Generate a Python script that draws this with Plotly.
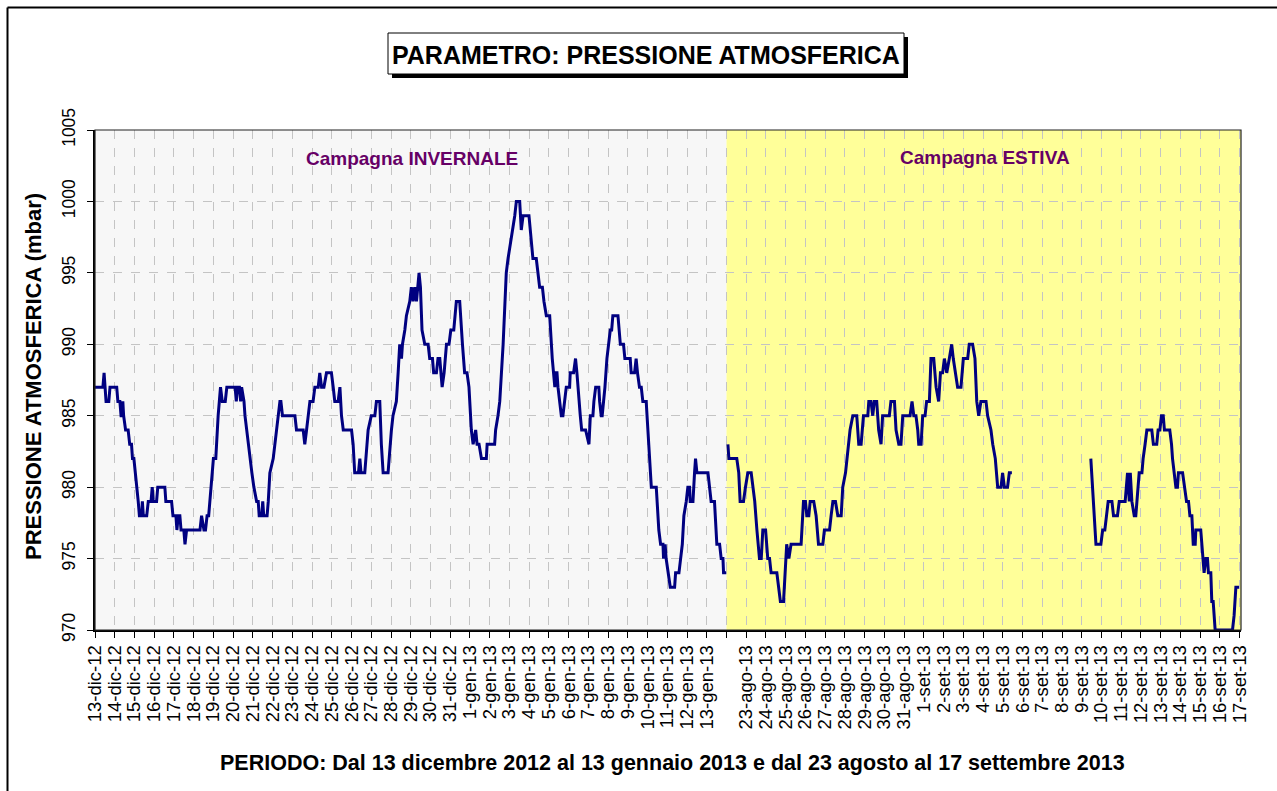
import plotly.graph_objects as go

# ---------------- DATA ----------------
tick_labels = [
    "13-dic-12", "14-dic-12", "15-dic-12", "16-dic-12", "17-dic-12", "18-dic-12", "19-dic-12",
    "20-dic-12", "21-dic-12", "22-dic-12", "23-dic-12", "24-dic-12", "25-dic-12", "26-dic-12",
    "27-dic-12", "28-dic-12", "29-dic-12", "30-dic-12", "31-dic-12", "1-gen-13", "2-gen-13",
    "3-gen-13", "4-gen-13", "5-gen-13", "6-gen-13", "7-gen-13", "8-gen-13", "9-gen-13",
    "10-gen-13", "11-gen-13", "12-gen-13", "13-gen-13", "",
    "23-ago-13", "24-ago-13", "25-ago-13", "26-ago-13", "27-ago-13", "28-ago-13", "29-ago-13",
    "30-ago-13", "31-ago-13", "1-set-13", "2-set-13", "3-set-13", "4-set-13", "5-set-13",
    "6-set-13", "7-set-13", "8-set-13", "9-set-13", "10-set-13", "11-set-13", "12-set-13",
    "13-set-13", "14-set-13", "15-set-13", "16-set-13", "17-set-13",
]

# Winter campaign (time in days from 13-dic-12 00:00, pressure in mbar)
winter_day = [
    0.00, 0.40, 0.46, 0.52, 0.56, 0.70, 0.76, 1.10, 1.16, 1.26, 1.32, 1.36, 1.41, 1.45, 1.55, 1.68,
    1.76, 1.85, 1.90, 1.97, 2.05, 2.13, 2.19, 2.25, 2.36, 2.40, 2.45, 2.62, 2.70, 2.84, 2.90, 2.95,
    3.12, 3.18, 3.54, 3.59, 3.88, 3.95, 4.10, 4.15, 4.22, 4.30, 4.36, 4.50, 4.56, 4.64, 5.32, 5.40,
    5.52, 5.60, 5.68, 5.76, 5.82, 5.86, 5.92, 6.00, 6.12, 6.18, 6.24, 6.30, 6.36, 6.45, 6.60, 6.68,
    7.10, 7.16, 7.22, 7.32, 7.38, 7.43, 7.55, 7.60, 7.68, 7.76, 7.85, 7.95, 8.05, 8.19, 8.27, 8.32,
    8.45, 8.50, 8.55, 8.72, 8.78, 8.86, 9.03, 9.12, 9.20, 9.30, 9.37, 9.42, 9.50, 10.13, 10.21, 10.55,
    10.63, 10.72, 10.80, 10.89, 11.05, 11.14, 11.31, 11.39, 11.48, 11.60, 11.73, 11.98, 12.07, 12.15, 12.32, 12.41,
    12.49, 12.58, 13.00, 13.08, 13.16, 13.35, 13.42, 13.48, 13.67, 13.76, 13.84, 14.00, 14.18, 14.26, 14.43, 14.51,
    14.60, 14.85, 14.94, 15.02, 15.10, 15.27, 15.36, 15.44, 15.53, 15.58, 15.70, 15.78, 15.95, 16.03, 16.12, 16.20,
    16.29, 16.42, 16.49, 16.57, 16.71, 16.88, 16.96, 17.10, 17.16, 17.30, 17.38, 17.47, 17.59, 17.69, 17.81, 17.94,
    18.03, 18.18, 18.31, 18.48, 18.62, 18.73, 18.85, 18.95, 19.07, 19.16, 19.29, 19.36, 19.46, 19.58, 19.83, 19.87,
    20.25, 20.30, 20.42, 20.51, 20.68, 20.84, 20.93, 21.05, 21.18, 21.27, 21.35, 21.52, 21.60, 21.69, 21.99, 22.11,
    22.19, 22.36, 22.45, 22.53, 22.67, 22.75, 22.87, 23.04, 23.17, 23.24, 23.30, 23.34, 23.41, 23.46, 23.54, 23.63,
    23.71, 23.80, 23.88, 24.05, 24.08, 24.25, 24.35, 24.42, 24.52, 24.59, 24.66, 24.86, 25.03, 25.10, 25.23, 25.28,
    25.37, 25.53, 25.57, 25.65, 25.70, 25.77, 25.84, 25.94, 26.02, 26.11, 26.18, 26.24, 26.50, 26.55, 26.62, 26.78,
    26.85, 27.12, 27.17, 27.34, 27.42, 27.49, 27.59, 27.68, 27.76, 27.93, 28.07, 28.19, 28.44, 28.57, 28.66, 28.78,
    28.81, 28.89, 28.94, 29.06, 29.15, 29.37, 29.42, 29.59, 29.67, 29.76, 29.84, 29.96, 30.04, 30.13, 30.16, 30.30,
    30.38, 30.43, 30.50, 31.06, 31.14, 31.22, 31.39, 31.51, 31.65, 31.73, 31.82, 31.85, 31.99,
]
winter_mbar = [
    987, 987, 988, 987, 986, 986, 987, 987, 986, 986, 985, 985, 986, 985, 984, 984,
    983, 983, 982, 982, 981, 980, 979, 978, 978, 979, 978, 978, 979, 979, 980, 979,
    979, 980, 980, 979, 979, 978, 978, 977, 978, 978, 977, 977, 976, 977, 977, 978,
    977, 977, 978, 978, 979, 980, 981, 982, 982, 984, 985, 986, 987, 986, 986, 987,
    987, 986, 987, 987, 986, 987, 986, 985, 984, 983, 982, 981, 980, 979, 979, 978,
    978, 979, 978, 978, 979, 981, 982, 983, 984, 985, 986, 986, 985, 985, 984, 984,
    983, 984, 985, 986, 986, 987, 987, 988, 987, 987, 988, 988, 987, 986, 986, 987,
    985, 984, 984, 983, 981, 981, 982, 981, 981, 983, 984, 985, 985, 986, 986, 983,
    981, 981, 983, 984, 985, 986, 988, 990, 989, 990, 991, 992, 993, 994, 993, 994,
    993, 995, 994, 991, 990, 990, 989, 989, 988, 988, 989, 989, 987, 988, 990, 990,
    991, 991, 993, 993, 990, 988, 988, 987, 984, 983, 984, 983, 983, 982, 982, 983,
    983, 984, 985, 986, 990, 995, 996, 997, 998, 999, 1000, 1000, 998, 999, 999, 997,
    996, 996, 995, 994, 994, 993, 992, 992, 989, 988, 987, 988, 988, 987, 986, 985,
    985, 986, 987, 987, 988, 988, 989, 988, 986, 985, 984, 984, 983, 985, 985, 986,
    987, 987, 986, 985, 985, 986, 987, 989, 990, 991, 991, 992, 992, 991, 990, 990,
    989, 989, 988, 988, 989, 988, 987, 987, 986, 986, 983, 980, 980, 977, 976, 976,
    975, 976, 975, 974, 973, 973, 974, 974, 975, 976, 978, 979, 980, 980, 979, 979,
    981, 982, 981, 981, 980, 979, 979, 976, 976, 975, 975, 974, 974,
]

# Summer campaign, first block (23-ago-13 ... 5-set-13)
summer1_day = [
    32.07, 32.12, 32.52, 32.62, 32.69, 32.86, 32.96, 33.08, 33.25, 33.33, 33.43, 33.54, 33.67, 33.76, 33.84, 33.98,
    34.09, 34.18, 34.26, 34.55, 34.65, 34.73, 34.89, 34.99, 35.05, 35.16, 35.27, 35.78, 35.90, 36.00, 36.07, 36.17,
    36.24, 36.42, 36.54, 36.66, 36.88, 36.96, 37.22, 37.30, 37.39, 37.52, 37.64, 37.81, 37.89, 38.03, 38.11, 38.18,
    38.26, 38.40, 38.60, 38.70, 38.82, 38.94, 39.16, 39.21, 39.32, 39.41, 39.49, 39.61, 39.71, 39.83, 39.91, 40.25,
    40.33, 40.51, 40.59, 40.73, 40.84, 40.93, 41.30, 41.40, 41.49, 41.60, 41.69, 41.74, 41.86, 41.94, 42.06, 42.14,
    42.28, 42.36, 42.50, 42.62, 42.75, 42.84, 42.95, 43.04, 43.16, 43.29, 43.41, 43.49, 43.59, 43.71, 43.88, 44.00,
    44.22, 44.30, 44.47, 44.59, 44.68, 44.78, 44.89, 45.15, 45.23, 45.40, 45.49, 45.62, 45.74, 45.91, 45.99, 46.08,
    46.24, 46.33, 46.46,
]
summer1_mbar = [
    983, 982, 982, 981, 979, 979, 980, 981, 981, 980, 979, 977, 975, 975, 977, 977,
    975, 975, 974, 974, 973, 972, 972, 975, 976, 975, 976, 976, 979, 979, 978, 978,
    979, 979, 978, 976, 976, 977, 977, 978, 979, 979, 978, 978, 980, 981, 982, 983,
    984, 985, 985, 983, 983, 985, 985, 986, 986, 985, 986, 986, 984, 983, 985, 985,
    986, 986, 984, 983, 983, 985, 985, 986, 985, 985, 984, 983, 983, 985, 985, 986,
    986, 989, 989, 987, 986, 988, 988, 989, 988, 989, 990, 989, 988, 987, 987, 989,
    989, 990, 990, 989, 986, 985, 986, 986, 985, 984, 983, 982, 980, 980, 981, 980,
    980, 981, 981,
]

# Summer campaign, second block (9-set-13 ... 17-set-13)
summer2_day = [
    50.46, 50.72, 50.97, 51.06, 51.17, 51.26, 51.34, 51.53, 51.61, 51.81, 51.90, 52.20, 52.27, 52.32, 52.41, 52.46,
    52.54, 52.66, 52.74, 52.86, 52.91, 53.05, 53.11, 53.21, 53.30, 53.55, 53.63, 53.80, 53.87, 53.96, 54.04, 54.13,
    54.19, 54.46, 54.55, 54.60, 54.68, 54.77, 54.85, 54.90, 55.11, 55.21, 55.31, 55.41, 55.48, 55.58, 55.65, 55.75,
    55.78, 56.03, 56.12, 56.20, 56.29, 56.37, 56.42, 56.54, 56.59, 56.66, 56.76, 57.55, 57.64, 57.72, 57.81, 57.97,
]
summer2_mbar = [
    982, 976, 976, 977, 977, 978, 979, 979, 978, 978, 979, 979, 980, 981, 979, 981,
    979, 978, 978, 980, 981, 981, 982, 983, 984, 984, 983, 983, 984, 984, 985, 985,
    984, 984, 983, 982, 981, 980, 980, 981, 981, 980, 979, 979, 978, 978, 976, 976,
    977, 977, 975, 974, 975, 975, 974, 974, 972, 972, 970, 970, 970, 971, 973, 973,
]

y_ticks = [970, 975, 980, 985, 990, 995, 1000, 1005]

# ---------------- FIGURE ----------------
W, H = 1277, 791
L, R, T, B = 95, 36, 130, 161
PW, PH = W - L - R, H - T - B
X_END = 58.07
WINTER_END = 32.0

def px(x):
    return (x - L) / PW

def py(y):
    return (H - B - y) / PH

FONT = "Arial, 'Liberation Sans', sans-serif"
LINE = dict(color="#000080", width=3)

fig = go.Figure()
fig.add_trace(go.Scatter(x=winter_day, y=winter_mbar, mode="lines", line=LINE,
                         showlegend=False, hoverinfo="skip"))
fig.add_trace(go.Scatter(x=summer1_day, y=summer1_mbar, mode="lines", line=LINE,
                         showlegend=False, hoverinfo="skip"))
fig.add_trace(go.Scatter(x=summer2_day, y=summer2_mbar, mode="lines", line=LINE,
                         showlegend=False, hoverinfo="skip"))

shapes = [
    # campaign backgrounds
    dict(type="rect", xref="x", yref="paper", x0=0, x1=WINTER_END, y0=0, y1=1,
         fillcolor="#F7F7F7", line=dict(width=0), layer="below"),
    dict(type="rect", xref="x", yref="paper", x0=WINTER_END, x1=X_END, y0=0, y1=1,
         fillcolor="#FFFF99", line=dict(width=0), layer="below"),
    # plot frame
    dict(type="rect", xref="paper", yref="paper", x0=0, x1=1, y0=0, y1=1,
         line=dict(color="#222222", width=1.2), layer="above"),
    # outer chart border (left and top visible)
    dict(type="line", xref="paper", yref="paper", x0=px(7.5), x1=px(7.5), y0=py(7.5), y1=py(800),
         line=dict(color="black", width=2)),
    dict(type="line", xref="paper", yref="paper", x0=px(7.5), x1=px(1290), y0=py(7.5), y1=py(7.5),
         line=dict(color="black", width=2)),
    # title box shadow and box
    dict(type="rect", xref="paper", yref="paper", x0=px(392), x1=px(908), y0=py(37), y1=py(78),
         fillcolor="black", line=dict(width=0)),
    dict(type="rect", xref="paper", yref="paper", x0=px(388), x1=px(904), y0=py(33), y1=py(74),
         fillcolor="white", line=dict(color="black", width=1)),
]

annotations = [
    dict(text="<b>PARAMETRO: PRESSIONE ATMOSFERICA</b>", xref="paper", yref="paper",
         x=px(646), y=py(55), showarrow=False, xanchor="center", yanchor="middle",
         font=dict(family=FONT, size=25, color="black")),
    dict(text="<b>Campagna INVERNALE</b>", xref="paper", yref="paper",
         x=px(412), y=py(158), showarrow=False, xanchor="center", yanchor="middle",
         font=dict(family=FONT, size=19, color="#660066")),
    dict(text="<b>Campagna ESTIVA</b>", xref="paper", yref="paper",
         x=px(985), y=py(157), showarrow=False, xanchor="center", yanchor="middle",
         font=dict(family=FONT, size=19, color="#660066")),
    dict(text="<b>PRESSIONE ATMOSFERICA (mbar)</b>", xref="paper", yref="paper",
         x=px(33), y=py(377), showarrow=False, xanchor="center", yanchor="middle",
         textangle=-90, font=dict(family=FONT, size=22, color="black")),
    dict(text="<b>PERIODO: Dal 13 dicembre 2012 al 13 gennaio 2013 e dal 23 agosto al 17 settembre 2013</b>",
         xref="paper", yref="paper", x=px(672), y=py(763), showarrow=False,
         xanchor="center", yanchor="middle", font=dict(family=FONT, size=21.5, color="black")),
]

fig.update_layout(
    width=W, height=H,
    margin=dict(l=L, r=R, t=T, b=B, pad=0),
    paper_bgcolor="white", plot_bgcolor="white",
    shapes=shapes, annotations=annotations,
    font=dict(family=FONT, color="black"),
    xaxis=dict(
        range=[0, X_END], tickmode="array", tickvals=list(range(len(tick_labels))),
        ticktext=tick_labels, tickangle=-90, tickfont=dict(family=FONT, size=18.5, color="black"),
        showgrid=True, gridcolor="#C4C4C4", griddash="dash", gridwidth=1,
        ticks="outside", ticklen=6, tickcolor="black",
        showline=True, linecolor="black", linewidth=1.5, zeroline=False, fixedrange=True,
    ),
    yaxis=dict(
        range=[970, 1005], tickmode="array", tickvals=y_ticks, ticktext=[str(v) for v in y_ticks],
        tickangle=-90, tickfont=dict(family=FONT, size=17.5, color="black"), ticklabelstandoff=5,
        showgrid=True, gridcolor="#C4C4C4", griddash="dash", gridwidth=1,
        ticks="outside", ticklen=6, tickcolor="black",
        showline=True, linecolor="black", linewidth=1.5, zeroline=False, fixedrange=True,
    ),
)

fig.write_html("out.html", config={"displayModeBar": False},
               post_script="document.body.style.margin='0px';")
